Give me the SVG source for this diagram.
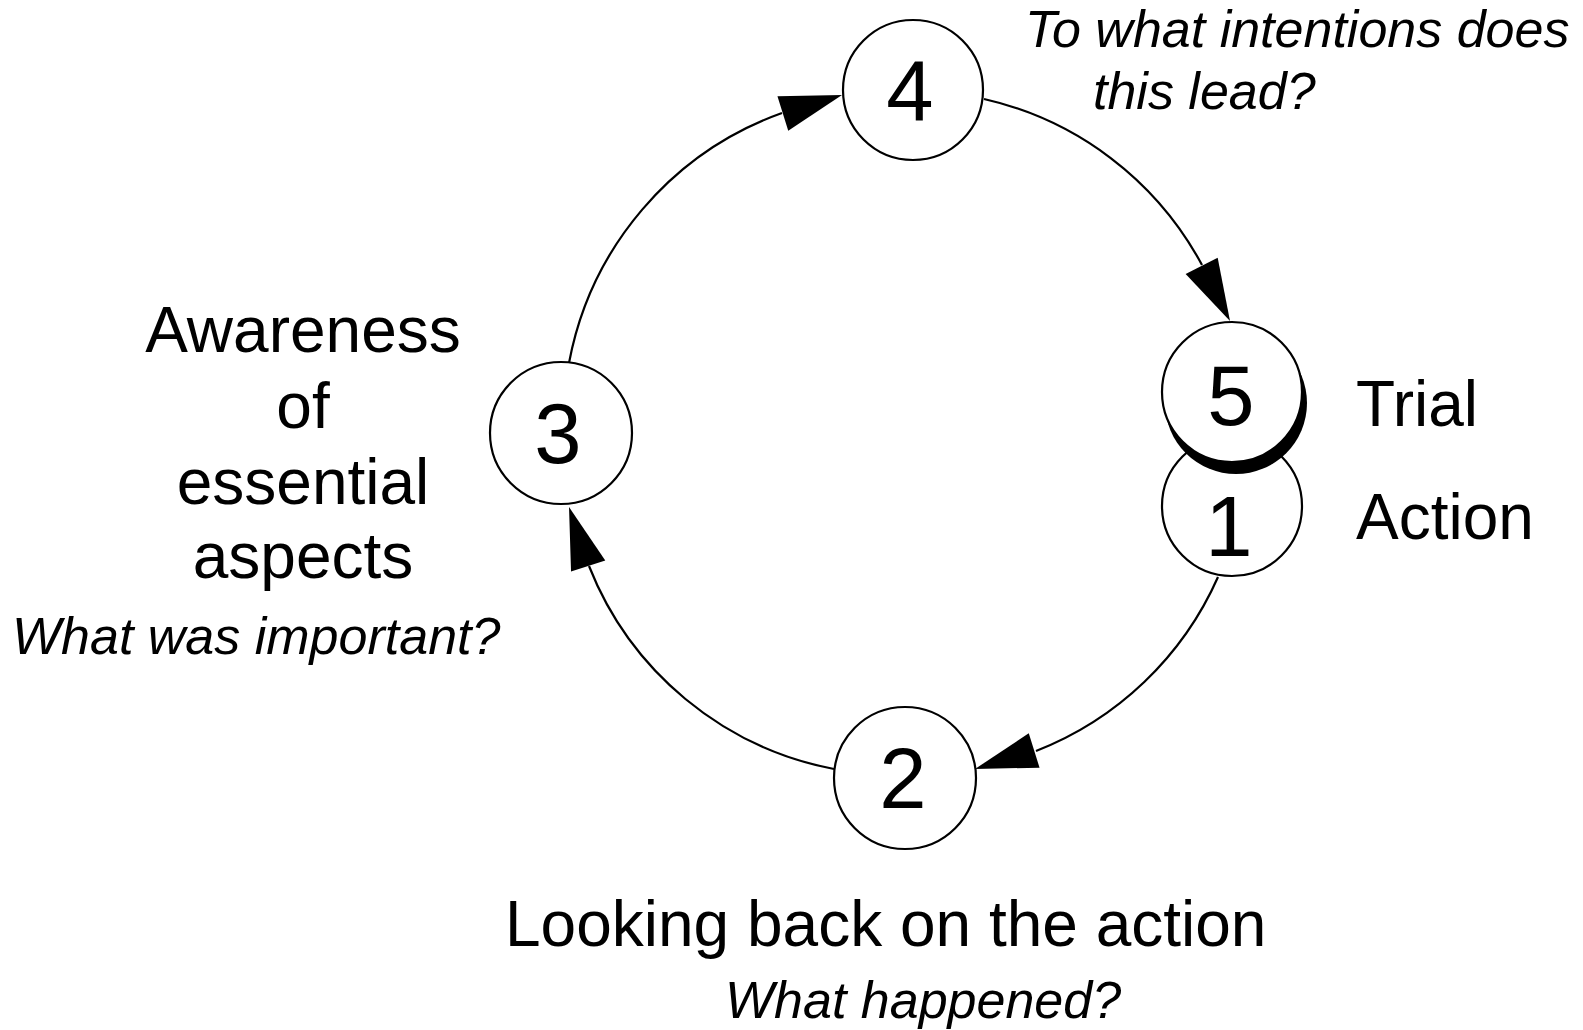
<svg xmlns="http://www.w3.org/2000/svg" xmlns:xlink="http://www.w3.org/1999/xlink" width="1583" height="1030" viewBox="0 0 1583 1030">
  <style>
    .node { fill: #fff; stroke: #000; stroke-width: 2.2; }
    .num { font-family: "Liberation Sans", Arial, sans-serif; font-size: 85px; text-anchor: middle; fill: #000; }
    .lbl { font-family: "Liberation Sans", Arial, sans-serif; font-size: 64px; fill: #000; }
    .q { font-family: "Liberation Sans", Arial, sans-serif; font-size: 52px; font-style: italic; fill: #000; }
    .conn { fill: none; stroke: #000; stroke-width: 2.2; }
  </style>
  <defs>
    <path id="arrowhead" d="M0,0 L-62,-18 L-62,18 Z" fill="#000"/>
  </defs>
  <rect width="1583" height="1030" fill="#fff"/>

  <g id="connectors">
    <path class="conn" d="M984,99 A330,330 0 0 1 1202,265"/>
    <use xlink:href="#arrowhead" transform="translate(1230,321) rotate(62.8)"/>
    <path class="conn" d="M1218,577 A330,330 0 0 1 1036,751"/>
    <use xlink:href="#arrowhead" transform="translate(975,769) rotate(162.6)"/>
    <path class="conn" d="M834,769 A330,330 0 0 1 589,566"/>
    <use xlink:href="#arrowhead" transform="translate(569,507) rotate(-108)"/>
    <path class="conn" d="M569,363 A330,330 0 0 1 782,113"/>
    <use xlink:href="#arrowhead" transform="translate(842,95) rotate(-17.4)"/>
  </g>

  <g id="node-4">
    <circle class="node" cx="913" cy="90" r="70"/>
    <text class="num" x="910" y="120">4</text>
  </g>
  <g id="node-3">
    <circle class="node" cx="561" cy="433" r="71"/>
    <text class="num" x="558" y="463">3</text>
  </g>
  <g id="node-2">
    <circle class="node" cx="905" cy="778" r="71"/>
    <text class="num" x="903" y="808">2</text>
  </g>
  <g id="node-1">
    <circle class="node" cx="1232" cy="506" r="70"/>
    <text class="num" x="1229" y="556">1</text>
  </g>
  <g id="node-5">
    <circle cx="1236" cy="403" r="71" fill="#000"/>
    <circle class="node" cx="1232" cy="392" r="70"/>
    <text class="num" x="1231" y="425">5</text>
  </g>

  <g id="labels">
    <text class="q" x="1025" y="47">To what intentions does</text>
    <text class="q" x="1093" y="109">this lead?</text>
    <text class="lbl" x="1356" y="426">Trial</text>
    <text class="lbl" x="1356" y="539">Action</text>
    <text class="lbl" x="303" y="352" text-anchor="middle">Awareness</text>
    <text class="lbl" x="303" y="428" text-anchor="middle">of</text>
    <text class="lbl" x="303" y="504" text-anchor="middle">essential</text>
    <text class="lbl" x="303" y="578" text-anchor="middle">aspects</text>
    <text class="q" x="12" y="654">What was important?</text>
    <text class="lbl" x="505" y="946">Looking back on the action</text>
    <text class="q" x="725" y="1018">What happened?</text>
  </g>
</svg>
